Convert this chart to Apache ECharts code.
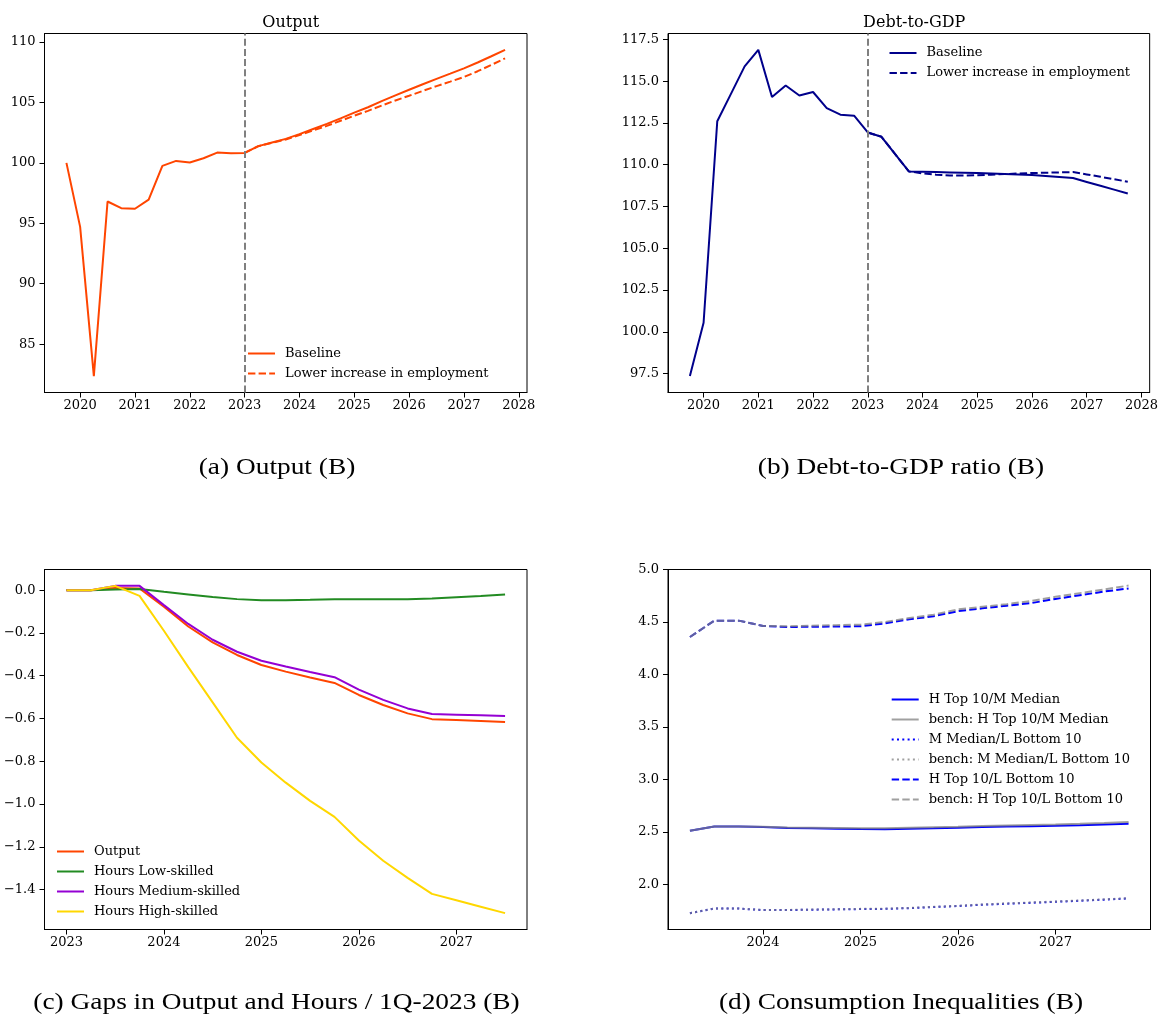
<!DOCTYPE html>
<html>
<head>
<meta charset="utf-8">
<script src="https://cdn.jsdelivr.net/npm/echarts@6/dist/echarts.min.js"></script>
<style>
  html, body { margin: 0; padding: 0; background: #fff; }
  #chart { width: 1161px; height: 1017px; }
</style>
</head>
<body>
<div id="chart"></div>
<script>
// ---- Quarterly dates (decimal years) ----
const quartersLong = [2019.75, 2020.0, 2020.25, 2020.5, 2020.75, 2021.0, 2021.25, 2021.5, 2021.75,
  2022.0, 2022.25, 2022.5, 2022.75, 2023.0, 2023.25, 2023.5, 2023.75, 2024.0, 2024.25, 2024.5, 2024.75,
  2025.0, 2025.25, 2025.5, 2025.75, 2026.0, 2026.25, 2026.5, 2026.75, 2027.0, 2027.25, 2027.5, 2027.75];
const projQuarters = [2023.0, 2023.25, 2023.5, 2023.75, 2024.0, 2024.25, 2024.5, 2024.75,
  2025.0, 2025.25, 2025.5, 2025.75, 2026.0, 2026.25, 2026.5, 2026.75, 2027.0, 2027.25, 2027.5, 2027.75];
const gapQuarters = [2023.0, 2023.25, 2023.5, 2023.75, 2024.0, 2024.25, 2024.5, 2024.75,
  2025.0, 2025.25, 2025.5, 2025.75, 2026.0, 2026.25, 2026.5, 2026.75, 2027.0, 2027.25, 2027.5];
const ineqQuarters = [2023.25, 2023.5, 2023.75, 2024.0, 2024.25, 2024.5, 2024.75,
  2025.0, 2025.25, 2025.5, 2025.75, 2026.0, 2026.25, 2026.5, 2026.75, 2027.0, 2027.25, 2027.5, 2027.75];

// ---- (a) Output ----
const outputBaseline = [100.0, 94.7, 82.35, 96.8, 96.25, 96.2, 96.95, 99.75, 100.16, 100.03, 100.38,
  100.85, 100.8, 100.82, 101.38, 101.68, 101.98, 102.38, 102.8, 103.22, 103.68, 104.15, 104.6, 105.1,
  105.58, 106.05, 106.5, 106.95, 107.38, 107.82, 108.3, 108.82, 109.35];
const outputLowEmp = [100.82, 101.38, 101.66, 101.93, 102.3, 102.68, 103.06, 103.48, 103.9, 104.3,
  104.74, 105.16, 105.55, 105.95, 106.35, 106.72, 107.1, 107.58, 108.1, 108.65];

// ---- (b) Debt-to-GDP ----
const debtBaseline = [97.35, 100.54, 112.6, 114.24, 115.88, 116.87, 114.05, 114.74, 114.14, 114.35,
  113.39, 112.99, 112.93, 111.93, 111.67, 110.63, 109.6, 109.58, 109.56, 109.54, 109.52, 109.5, 109.48,
  109.45, 109.42, 109.38, 109.33, 109.27, 109.2, 108.97, 108.74, 108.51, 108.28];
const debtLowEmp = [111.93, 111.67, 110.63, 109.6, 109.48, 109.4, 109.36, 109.35, 109.37, 109.4,
  109.44, 109.47, 109.5, 109.52, 109.54, 109.56, 109.42, 109.28, 109.13, 108.98];

// ---- (c) Gaps relative to 1Q-2023 ----
const gapOutput = [0, 0, 0.01, 0.008, -0.077, -0.17, -0.244, -0.303, -0.35, -0.381, -0.408, -0.434,
  -0.49, -0.537, -0.576, -0.603, -0.607, -0.612, -0.617];
const gapHoursLow = [0, 0, 0.003, 0.005, -0.008, -0.02, -0.032, -0.042, -0.047, -0.047, -0.045, -0.042,
  -0.042, -0.042, -0.042, -0.039, -0.033, -0.027, -0.02];
const gapHoursMed = [0, 0, 0.02, 0.02, -0.07, -0.158, -0.232, -0.288, -0.33, -0.357, -0.383, -0.407,
  -0.465, -0.513, -0.553, -0.579, -0.582, -0.585, -0.588];
const gapHoursHigh = [0, 0, 0.02, -0.027, -0.19, -0.36, -0.525, -0.69, -0.806, -0.9, -0.985, -1.06,
  -1.17, -1.265, -1.345, -1.42, -1.45, -1.48, -1.51];

// ---- (d) Consumption inequalities ----
const topMedian = [2.512, 2.553, 2.553, 2.548, 2.538, 2.535, 2.532, 2.529, 2.527, 2.532, 2.535, 2.54,
  2.547, 2.552, 2.556, 2.56, 2.565, 2.572, 2.578];
const benchTopMedian = [2.512, 2.553, 2.553, 2.55, 2.542, 2.54, 2.538, 2.536, 2.535, 2.54, 2.545, 2.55,
  2.557, 2.562, 2.567, 2.572, 2.578, 2.586, 2.595];
const medianBottom = [1.727, 1.771, 1.771, 1.756, 1.757, 1.76, 1.763, 1.766, 1.768, 1.775, 1.785, 1.795,
  1.807, 1.817, 1.826, 1.835, 1.845, 1.856, 1.867];
const benchMedianBottom = [1.727, 1.771, 1.771, 1.757, 1.758, 1.761, 1.764, 1.768, 1.77, 1.777, 1.787,
  1.797, 1.81, 1.82, 1.829, 1.838, 1.848, 1.859, 1.87];
const topBottom = [4.357, 4.513, 4.513, 4.462, 4.452, 4.455, 4.457, 4.459, 4.487, 4.525, 4.555, 4.603,
  4.63, 4.655, 4.68, 4.72, 4.755, 4.79, 4.82];
const benchTopBottom = [4.357, 4.513, 4.513, 4.462, 4.46, 4.465, 4.47, 4.475, 4.5, 4.538, 4.57, 4.62,
  4.645, 4.67, 4.7, 4.74, 4.775, 4.81, 4.847];

// ---- Tick values ----
const yearTicksLong = [2020, 2021, 2022, 2023, 2024, 2025, 2026, 2027, 2028];
const yearTicksGap = [2023, 2024, 2025, 2026, 2027];
const yearTicksIneq = [2024, 2025, 2026, 2027];
const outputTicks = [85, 90, 95, 100, 105, 110];
const debtTicks = [97.5, 100, 102.5, 105, 107.5, 110, 112.5, 115, 117.5];
const gapTicks = [0, -0.2, -0.4, -0.6, -0.8, -1.0, -1.2, -1.4];
const ineqTicks = [2.0, 2.5, 3.0, 3.5, 4.0, 4.5, 5.0];

const policyDate = 2023;

// ---- helpers ----
const zip = (xs, ys) => xs.map((x, i) => [x, ys[i]]);
const FONT = 'DejaVu Serif';
const CAPTION_FONT = 'Liberation Serif';
const DASH = [7.4, 3.2];
const DOT = [2, 3.3];

function fmt1(v) {
  const s = Math.abs(v).toFixed(1);
  return v < -1e-9 ? '\u2212' + s : s;
}
function fmt0(v) { return String(Math.round(v)); }

function xAxisDef(gridIndex, min, max, ticks) {
  return {
    type: 'value', gridIndex, min, max,
    axisLine: { show: true, onZero: false, lineStyle: { color: '#000', width: 1 } },
    axisTick: { show: true, customValues: ticks, length: 5, lineStyle: { color: '#000', width: 1 } },
    axisLabel: { customValues: ticks, formatter: fmt0, margin: 7,
      fontFamily: FONT, fontSize: 13, color: '#000' },
    splitLine: { show: false }
  };
}
function yAxisDef(gridIndex, min, max, ticks, formatter) {
  return {
    type: 'value', gridIndex, min, max,
    axisLine: { show: true, onZero: false, lineStyle: { color: '#000', width: 1 } },
    axisTick: { show: true, customValues: ticks, length: 5, lineStyle: { color: '#000', width: 1 } },
    axisLabel: { customValues: ticks, formatter, margin: 9,
      fontFamily: FONT, fontSize: 13, color: '#000' },
    splitLine: { show: false }
  };
}
function line(name, idx, data, color, type, opacity) {
  return {
    name, type: 'line', xAxisIndex: idx, yAxisIndex: idx, data,
    symbol: 'none', showSymbol: false, animation: false, silent: true,
    lineStyle: { color, width: 2, type: type || 'solid', opacity: opacity == null ? 1 : opacity },
    itemStyle: { color }
  };
}
const policyLine = {
  silent: true, symbol: ['none', 'none'], animation: false,
  label: { show: false },
  lineStyle: { color: '#808080', width: 2, type: [7, 3.2] },
  data: [{ xAxis: policyDate }]
};
function legendDef(left, top, names) {
  return {
    orient: 'vertical', left, top, padding: 0,
    itemWidth: 27, itemHeight: 14, itemGap: 7,
    selectedMode: false,
    itemStyle: { opacity: 0, borderWidth: 0 },
    data: names,
    formatter: n => n.slice(2),
    textStyle: { fontFamily: FONT, fontSize: 13, color: '#000', padding: [0, 0, 0, 5] }
  };
}

const grids = [
  { left: 44.5, top: 33.5, width: 482.5, height: 359 },
  { left: 668, top: 33.5, width: 482.5, height: 359 },
  { left: 44.5, top: 569.5, width: 482.5, height: 360 },
  { left: 668, top: 569.5, width: 482.5, height: 360 }
].map(g => Object.assign(g, { show: true, borderColor: '#000', borderWidth: 1, containLabel: false }));

const GREY = '#808080';
const BLUE = '#0000ff';
const option = {
  backgroundColor: '#fff',
  animation: false,
  grid: grids,
  xAxis: [
    xAxisDef(0, 2019.35, 2028.15, yearTicksLong),
    xAxisDef(1, 2019.35, 2028.15, yearTicksLong),
    xAxisDef(2, 2022.775, 2027.725, yearTicksGap),
    xAxisDef(3, 2023.025, 2027.975, yearTicksIneq)
  ],
  yAxis: [
    yAxisDef(0, 81.0, 110.7, outputTicks, fmt0),
    yAxisDef(1, 96.37, 117.85, debtTicks, fmt1),
    yAxisDef(2, -1.5865, 0.0965, gapTicks, fmt1),
    yAxisDef(3, 1.5715, 5.0, ineqTicks, fmt1)
  ],
  title: [
    { text: 'Output', left: 285.7, top: 10, textAlign: 'center',
      textStyle: { fontFamily: FONT, fontSize: 16, fontWeight: 'normal', color: '#000' } },
    { text: 'Debt-to-GDP', left: 909.2, top: 10, textAlign: 'center',
      textStyle: { fontFamily: FONT, fontSize: 16, fontWeight: 'normal', color: '#000' } }
  ],
  legend: [
    legendDef(247, 347, ['a:Baseline', 'a:Lower increase in employment']),
    legendDef(888.5, 46.5, ['b:Baseline', 'b:Lower increase in employment']),
    legendDef(56, 845, ['c:Output', 'c:Hours Low-skilled', 'c:Hours Medium-skilled', 'c:Hours High-skilled']),
    legendDef(890.7, 693, ['d:H Top 10/M Median', 'd:bench: H Top 10/M Median',
      'd:M Median/L Bottom 10', 'd:bench: M Median/L Bottom 10',
      'd:H Top 10/L Bottom 10', 'd:bench: H Top 10/L Bottom 10'])
  ],
  series: [
    Object.assign(line('a:Baseline', 0, zip(quartersLong, outputBaseline), '#ff4500'), { markLine: policyLine }),
    line('a:Lower increase in employment', 0, zip(projQuarters, outputLowEmp), '#ff4500', DASH),
    Object.assign(line('b:Baseline', 1, zip(quartersLong, debtBaseline), '#00008b'), { markLine: policyLine }),
    line('b:Lower increase in employment', 1, zip(projQuarters, debtLowEmp), '#00008b', DASH),
    line('c:Output', 2, zip(gapQuarters, gapOutput), '#ff4500'),
    line('c:Hours Low-skilled', 2, zip(gapQuarters, gapHoursLow), '#228b22'),
    line('c:Hours Medium-skilled', 2, zip(gapQuarters, gapHoursMed), '#9400d3'),
    line('c:Hours High-skilled', 2, zip(gapQuarters, gapHoursHigh), '#ffd700'),
    line('d:H Top 10/M Median', 3, zip(ineqQuarters, topMedian), BLUE),
    line('d:bench: H Top 10/M Median', 3, zip(ineqQuarters, benchTopMedian), GREY, 'solid', 0.75),
    line('d:M Median/L Bottom 10', 3, zip(ineqQuarters, medianBottom), BLUE, DOT),
    line('d:bench: M Median/L Bottom 10', 3, zip(ineqQuarters, benchMedianBottom), GREY, DOT, 0.75),
    line('d:H Top 10/L Bottom 10', 3, zip(ineqQuarters, topBottom), BLUE, DASH),
    line('d:bench: H Top 10/L Bottom 10', 3, zip(ineqQuarters, benchTopBottom), GREY, DASH, 0.75)
  ],
  graphic: [
    ['(a) Output (B)', 277, 468],
    ['(b) Debt-to-GDP ratio (B)', 901, 468],
    ['(c) Gaps in Output and Hours / 1Q-2023 (B)', 276.5, 1003],
    ['(d) Consumption Inequalities (B)', 901, 1003]
  ].map(([text, x, y]) => ({
    type: 'text', x, y, scaleX: 1.14, silent: true,
    style: { text, fontFamily: CAPTION_FONT, fontSize: 24, fill: '#000',
      textAlign: 'center', textVerticalAlign: 'middle' }
  }))
};

const chart = echarts.init(document.getElementById('chart'), null, { renderer: 'canvas' });
chart.setOption(option);
</script>
</body>
</html>
